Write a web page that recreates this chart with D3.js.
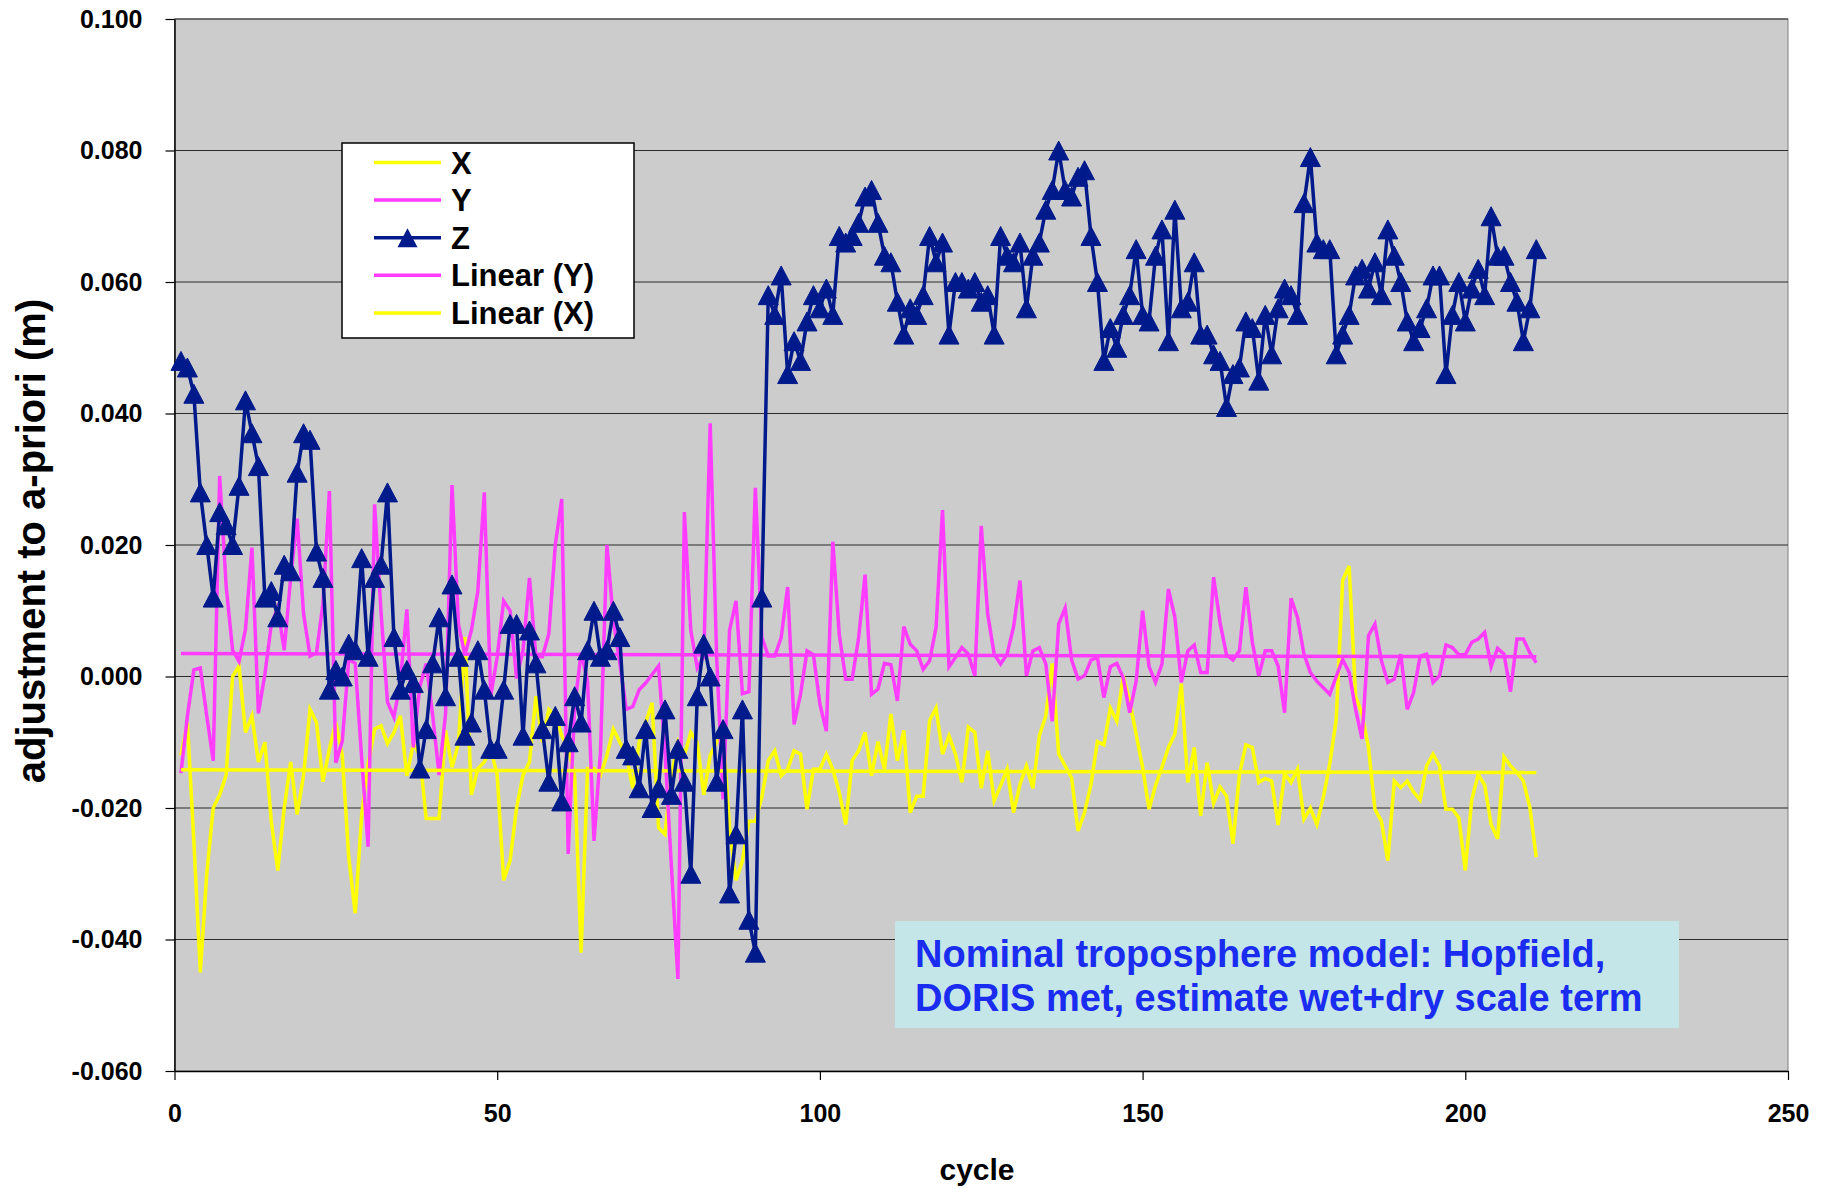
<!DOCTYPE html>
<html>
<head>
<meta charset="utf-8">
<script src="https://cdn.jsdelivr.net/npm/d3@7"></script>
<style>
  body { margin: 0; background: #ffffff; }
  text { font-family: "Liberation Sans", Arial, sans-serif; font-weight: bold; }
</style>
</head>
<body>
<div id="chart"></div>
<script>
// cycle of the first value in every series; one value per cycle after that
const firstCycle = 1;

const xValues = [
  -0.012, -0.007, -0.025, -0.045, -0.030, -0.020, -0.018, -0.015, 0.000, 0.0016,
  -0.0085, -0.006, -0.013, -0.010, -0.022, -0.0295, -0.020, -0.013, -0.021, -0.015,
  -0.005, -0.007, -0.016, -0.011, -0.007, -0.012, -0.0275, -0.036, -0.021, -0.0134,
  -0.008, -0.0075, -0.0102, -0.0085, -0.006, -0.0151, -0.0102, -0.012, -0.0216, -0.0216,
  -0.0216, -0.0082, -0.0138, -0.0102, 0.006, -0.018, -0.014, -0.013, -0.011, -0.015,
  -0.031, -0.028, -0.020, -0.015, -0.013, -0.003, -0.010, -0.005, -0.006, -0.009,
  -0.011, -0.015, -0.042, -0.014, -0.014, -0.015, -0.012, -0.008, -0.010, -0.012,
  -0.017, -0.010, -0.007, -0.004, -0.023, -0.024, -0.015, -0.010, -0.012, -0.0085,
  -0.010, -0.018, -0.012, -0.010, -0.0085, -0.023, -0.031, -0.028, -0.022, -0.022,
  -0.0184, -0.0128, -0.0113, -0.0151, -0.0141, -0.0113, -0.0118, -0.0202, -0.0141, -0.0141,
  -0.0118, -0.0141, -0.0176, -0.0225, -0.0128, -0.0113, -0.0085, -0.0151, -0.0099, -0.0141,
  -0.0057, -0.0128, -0.0082, -0.0207, -0.0182, -0.0182, -0.0067, -0.0048, -0.0118, -0.009,
  -0.0118, -0.0161, -0.0077, -0.0085, -0.017, -0.0113, -0.0189, -0.0166, -0.0141, -0.0207,
  -0.0164, -0.0136, -0.017, -0.009, -0.006, 0.002, -0.0118, -0.0136, -0.0154, -0.0235,
  -0.0207, -0.0164, -0.0099, -0.0104, -0.0048, -0.0068, 0.0001, -0.0037, -0.0088, -0.0138,
  -0.0202, -0.0166, -0.0138, -0.0108, -0.0088, -0.0011, -0.0161, -0.0108, -0.0212, -0.0131,
  -0.0193, -0.0168, -0.0182, -0.0254, -0.0149, -0.0104, -0.0108, -0.0161, -0.0155, -0.0159,
  -0.0226, -0.0148, -0.0161, -0.0141, -0.0217, -0.020, -0.0225, -0.0184, -0.0133, -0.0065,
  0.0146, 0.0168, -0.003, -0.0057, -0.0108, -0.0202, -0.022, -0.028, -0.0159, -0.0169,
  -0.0159, -0.0176, -0.0188, -0.0136, -0.0118, -0.0136, -0.0202, -0.0202, -0.0215, -0.0295,
  -0.0187, -0.0149, -0.0165, -0.0225, -0.0247, -0.0122, -0.0136, -0.0146, -0.0159, -0.0199,
  -0.0275
];

const yValues = [
  -0.0147, -0.006, 0.001, 0.0013, -0.006, -0.0128, 0.0305, 0.0138, 0.004, 0.0023,
  0.0072, 0.0196, -0.0056, 0.0003, 0.0079, 0.0105, 0.004, 0.015, 0.024, 0.0095,
  0.0031, 0.0036, 0.0111, 0.0282, -0.0131, -0.0098, 0.0026, 0.002, -0.0124, -0.0259,
  0.0262, 0.0098, -0.0039, -0.0062, -0.0007, 0.0102, -0.0108, -0.0016, 0.002, -0.0059,
  -0.015, -0.0056, 0.0291, 0.0079, 0.0033, 0.007, 0.013, 0.028, -0.003, 0.003,
  0.0115, 0.010, -0.0003, 0.004, 0.015, 0.003, 0.003, 0.0065, 0.020, 0.027,
  -0.027, -0.0046, 0.0036, -0.0007, -0.025, -0.0115, 0.020, 0.0085, 0.002, -0.005,
  -0.0046, -0.002, -0.001, 0.0003, 0.0016, -0.0115, -0.029, -0.046, 0.025, 0.007,
  0.0013, 0.003, 0.0385, 0.003, -0.0187, 0.007, 0.0115, -0.0026, -0.0023, 0.0287,
  0.006, 0.0031, 0.0031, 0.0059, 0.0136, -0.0073, -0.0027, 0.0039, 0.0033, -0.0042,
  -0.0083, 0.0205, 0.0064, -0.0004, -0.0004, 0.0059, 0.0155, -0.0027, -0.0019, 0.002,
  0.0018, -0.0037, 0.0076, 0.0049, 0.0039, 0.0011, 0.0024, 0.0075, 0.0253, 0.0015,
  0.0029, 0.0044, 0.0034, 0.0001, 0.0229, 0.0095, 0.0034, 0.0019, 0.0034, 0.0075,
  0.0146, 0.0001, 0.0039, 0.0044, 0.0019, -0.0068, 0.008, 0.0104, 0.0025, -0.0004,
  0.0001, 0.0025, 0.0029, -0.0032, 0.0015, 0.002, -0.0002, -0.0055, -0.0007, 0.010,
  0.0015, -0.0009, 0.0019, 0.0133, 0.009, -0.0009, 0.0039, 0.0048, 0.0006, 0.0006,
  0.0151, 0.0082, 0.0033, 0.0025, 0.0039, 0.0136, 0.0052, 0.0001, 0.0039, 0.0039,
  0.0016, -0.0055, 0.0119, 0.009, 0.0034, 0.0006, -0.0007, -0.0017, -0.0027, 0.000,
  0.0026, 0.0006, -0.005, -0.0095, 0.0062, 0.008, 0.0024, -0.0009, -0.0004, 0.0034,
  -0.005, -0.0024, 0.0031, 0.0034, -0.0009, 0.0001, 0.0048, 0.0044, 0.0033, 0.0033,
  0.0052, 0.0057, 0.0067, 0.0015, 0.0043, 0.0034, -0.0023, 0.0057, 0.0057, 0.0036,
  0.0021
];

const zValues = [
  0.048, 0.047, 0.043, 0.028, 0.020, 0.012, 0.025, 0.023, 0.020, 0.029,
  0.042, 0.037, 0.032, 0.012, 0.013, 0.009, 0.017, 0.016, 0.031, 0.037,
  0.036, 0.019, 0.015, -0.002, 0.001, 0.000, 0.005, 0.004, 0.018, 0.003,
  0.015, 0.017, 0.028, 0.006, -0.002, 0.001, -0.001, -0.014, -0.008, 0.002,
  0.009, -0.003, 0.014, 0.003, -0.009, -0.007, 0.004, -0.002, -0.011, -0.011,
  -0.002, 0.008, 0.008, -0.009, 0.007, 0.002, -0.008, -0.016, -0.006, -0.019,
  -0.010, -0.003, -0.007, 0.004, 0.010, 0.003, 0.004, 0.010, 0.006, -0.011,
  -0.012, -0.017, -0.008, -0.020, -0.017, -0.005, -0.018, -0.011, -0.016, -0.030,
  -0.003, 0.005, 0.000, -0.016, -0.008, -0.033, -0.024, -0.005, -0.037, -0.042,
  0.012, 0.058, 0.055, 0.061, 0.046, 0.051, 0.048, 0.054, 0.058, 0.056,
  0.059, 0.055, 0.067, 0.066, 0.067, 0.069, 0.073, 0.074, 0.069, 0.064,
  0.063, 0.057, 0.052, 0.056, 0.055, 0.058, 0.067, 0.063, 0.066, 0.052,
  0.060, 0.060, 0.059, 0.060, 0.057, 0.058, 0.052, 0.067, 0.064, 0.063,
  0.066, 0.056, 0.064, 0.066, 0.071, 0.074, 0.080, 0.074, 0.073, 0.076,
  0.077, 0.067, 0.060, 0.048, 0.053, 0.050, 0.055, 0.058, 0.065, 0.055,
  0.054, 0.064, 0.068, 0.051, 0.071, 0.056, 0.057, 0.063, 0.052, 0.052,
  0.049, 0.048, 0.041, 0.046, 0.047, 0.054, 0.053, 0.045, 0.055, 0.049,
  0.056, 0.059, 0.058, 0.055, 0.072, 0.079, 0.066, 0.065, 0.065, 0.049,
  0.052, 0.055, 0.061, 0.062, 0.059, 0.063, 0.058, 0.068, 0.064, 0.060,
  0.054, 0.051, 0.053, 0.056, 0.061, 0.061, 0.046, 0.055, 0.060, 0.054,
  0.059, 0.062, 0.058, 0.070, 0.064, 0.064, 0.060, 0.057, 0.051, 0.056,
  0.065
];

// linear trend lines, read at their two ends
const trendCycles = [1, 211];
const trendYValues = [0.0035, 0.0030];
const trendXValues = [-0.0142, -0.0146];

const yTicks = [-0.06, -0.04, -0.02, 0, 0.02, 0.04, 0.06, 0.08, 0.1];
const xTicks = [0, 50, 100, 150, 200, 250];
const legendNames = ['X', 'Y', 'Z', 'Linear (Y)', 'Linear (X)'];
const noteLines = [
  'Nominal troposphere model: Hopfield,',
  'DORIS met, estimate wet+dry scale term'
];

const yellow = '#ffff00';
const pink = '#ff3cff';
const navy = '#001a8c';

const width = 1824, height = 1189;
const margin = { top: 19, right: 36, bottom: 118, left: 174.5 };
const plotW = width - margin.left - margin.right;
const plotH = height - margin.top - margin.bottom;

const svg = d3.select('#chart')
  .append('svg')
  .attr('width', width)
  .attr('height', height)
  .style('display', 'block');

svg.append('rect')
  .attr('width', width)
  .attr('height', height)
  .attr('fill', '#ffffff');

const g = svg.append('g')
  .attr('transform', 'translate(' + margin.left + ',' + margin.top + ')');

const x = d3.scaleLinear().domain([0, 250]).range([0, plotW]);
const y = d3.scaleLinear().domain([-0.06, 0.1]).range([plotH, 0]);

// plot area
g.append('rect')
  .attr('width', plotW)
  .attr('height', plotH)
  .attr('fill', '#cccccc')
  .attr('stroke', '#808080')
  .attr('stroke-width', 1);

// gridlines
g.selectAll('.grid')
  .data(yTicks.filter(d => d > -0.06))
  .enter()
  .append('line')
  .attr('class', 'grid')
  .attr('x1', 0)
  .attr('x2', plotW)
  .attr('y1', d => y(d))
  .attr('y2', d => y(d))
  .attr('stroke', '#2a2a2a')
  .attr('stroke-width', 1.2);

// Y axis (plain hyphen for negatives, like the original)
const yAxis = g.append('g')
  .call(d3.axisLeft(y).tickValues(yTicks).tickFormat(d => d.toFixed(3))
    .tickSize(9).tickPadding(23).tickSizeOuter(0));
yAxis.select('.domain').attr('stroke', '#000').attr('stroke-width', 1.5);
yAxis.selectAll('line').attr('stroke', '#000').attr('stroke-width', 1.2);
yAxis.selectAll('text')
  .attr('fill', '#000')
  .style('font-size', '25px')
  .style('font-family', '"Liberation Sans", Arial, sans-serif')
  .style('font-weight', 'bold');

// X axis
const xAxis = g.append('g')
  .attr('transform', 'translate(0,' + plotH + ')')
  .call(d3.axisBottom(x).tickValues(xTicks).tickFormat(d3.format('d'))
    .tickSize(9).tickPadding(24).tickSizeOuter(0));
xAxis.select('.domain').attr('stroke', '#000').attr('stroke-width', 1.5);
xAxis.selectAll('line').attr('stroke', '#000').attr('stroke-width', 1.2);
xAxis.selectAll('text')
  .attr('fill', '#000')
  .style('font-size', '25px')
  .style('font-family', '"Liberation Sans", Arial, sans-serif')
  .style('font-weight', 'bold');

// axis titles
svg.append('text')
  .attr('x', 977)
  .attr('y', 1180)
  .attr('text-anchor', 'middle')
  .style('font-size', '30px')
  .text('cycle');

svg.append('text')
  .attr('transform', 'translate(31,541) rotate(-90)')
  .attr('text-anchor', 'middle')
  .attr('dominant-baseline', 'central')
  .style('font-size', '40px')
  .text('adjustment to a-priori (m)');

// series
const toPoints = values => values.map((v, i) => ({ cycle: firstCycle + i, value: v }));
const line = d3.line().x(d => x(d.cycle)).y(d => y(d.value));

g.append('path')
  .datum(toPoints(xValues))
  .attr('fill', 'none')
  .attr('stroke', yellow)
  .attr('stroke-width', 3.5)
  .attr('d', line);

g.append('path')
  .datum(toPoints(yValues))
  .attr('fill', 'none')
  .attr('stroke', pink)
  .attr('stroke-width', 3.5)
  .attr('d', line);

// trend lines
const trendLine = d3.line().x(d => x(d[0])).y(d => y(d[1]));
g.append('path')
  .datum(d3.zip(trendCycles, trendYValues))
  .attr('fill', 'none')
  .attr('stroke', pink)
  .attr('stroke-width', 3.5)
  .attr('d', trendLine);
g.append('path')
  .datum(d3.zip(trendCycles, trendXValues))
  .attr('fill', 'none')
  .attr('stroke', yellow)
  .attr('stroke-width', 3.5)
  .attr('d', trendLine);

// Z with triangle markers
const zPoints = toPoints(zValues);
g.append('path')
  .datum(zPoints)
  .attr('fill', 'none')
  .attr('stroke', navy)
  .attr('stroke-width', 3.5)
  .attr('d', line);

const triangle = 'M0,-9.5L10,9.5L-10,9.5Z';
g.selectAll('.marker')
  .data(zPoints)
  .enter()
  .append('path')
  .attr('class', 'marker')
  .attr('transform', d => 'translate(' + x(d.cycle) + ',' + y(d.value) + ')')
  .attr('d', triangle)
  .attr('fill', navy)
  .attr('stroke', navy)
  .attr('stroke-width', 1);

// legend
const legendStyles = [
  { color: yellow, marker: false },
  { color: pink, marker: false },
  { color: navy, marker: true },
  { color: pink, marker: false },
  { color: yellow, marker: false }
];
const legend = svg.append('g').attr('transform', 'translate(342,143)');
legend.append('rect')
  .attr('width', 292)
  .attr('height', 195)
  .attr('fill', '#ffffff')
  .attr('stroke', '#000')
  .attr('stroke-width', 1.5);

const rows = legend.selectAll('.row')
  .data(legendNames)
  .enter()
  .append('g')
  .attr('class', 'row')
  .attr('transform', (d, i) => 'translate(0,' + (19.5 + i * 37.6) + ')');

rows.append('line')
  .attr('x1', 32)
  .attr('x2', 99)
  .attr('stroke', (d, i) => legendStyles[i].color)
  .attr('stroke-width', 3.5);

rows.filter((d, i) => legendStyles[i].marker)
  .append('path')
  .attr('transform', 'translate(65.5,0)')
  .attr('d', triangle)
  .attr('fill', navy);

rows.append('text')
  .attr('x', 109)
  .attr('y', 11)
  .style('font-size', '31px')
  .text(d => d);

// note box
const note = svg.append('g').attr('transform', 'translate(895,921)');
note.append('rect')
  .attr('width', 784)
  .attr('height', 107)
  .attr('fill', '#c4e6e8');
note.selectAll('text')
  .data(noteLines)
  .enter()
  .append('text')
  .attr('x', 20)
  .attr('y', (d, i) => 46 + i * 44)
  .attr('fill', '#1a2cf0')
  .style('font-size', '38px')
  .text(d => d);
</script>
</body>
</html>
